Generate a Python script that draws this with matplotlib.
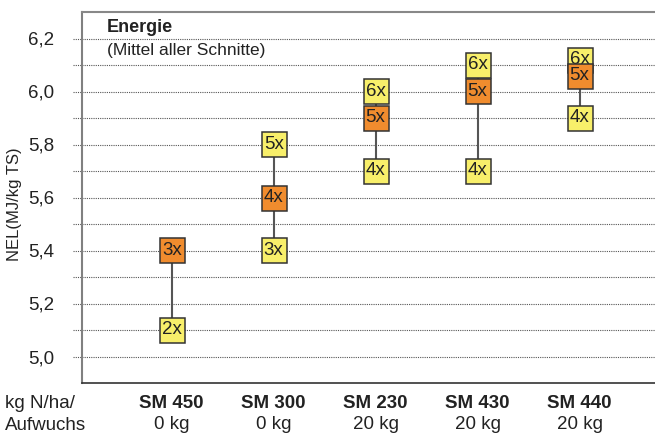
import matplotlib
matplotlib.use("Agg")
import matplotlib.pyplot as plt
import matplotlib.transforms as mtransforms
import numpy as np

plt.rcParams['font.family'] = ['Liberation Sans', 'DejaVu Sans']

# Daten
sorten = ['SM 450', 'SM 300', 'SM 230', 'SM 430', 'SM 440']
duengung = ['0 kg', '0 kg', '20 kg', '20 kg', '20 kg']
schnitte = [[2, 3], [3, 4, 5], [4, 5, 6], [4, 5, 6], [4, 6, 5]]
nel = [[5.1, 5.4], [5.4, 5.6, 5.8], [5.7, 5.9, 6.0], [5.7, 6.0, 6.1], [5.9, 6.12, 6.06]]
optimum = [3, 4, 5, 5, 5]

gelb = '#F8EF6A'
orange = '#F08C2E'

fig = plt.figure(figsize=(6.55, 4.34), dpi=100)
ax = fig.add_axes([82/655, 51/434, 1 - 82/655, 371/434])

ax.set_xlim(-0.88, 4.74)
ax.set_ylim(4.9, 6.3)

# punktierte Hilfslinien
for y in np.arange(5.0, 6.25, 0.1):
    ax.axhline(y, xmin=-0.016, xmax=1, color='#555555', lw=0.8,
               linestyle=(0, (1, 1)), clip_on=False, zorder=1)

for i in range(len(sorten)):
    werte = nel[i]
    ax.plot([i, i], [min(werte), max(werte)], color='#555555', lw=1.5, zorder=2)
    for s, v in zip(schnitte[i], werte):
        farbe = orange if s == optimum[i] else gelb
        z = 5 if s == optimum[i] else 3
        ax.plot(i, v, marker='s', markersize=18, markerfacecolor=farbe,
                markeredgecolor='#333333', markeredgewidth=1.1, zorder=z)
        ax.text(i, v, f'{s}x', ha='center', va='center', fontsize=13.5,
                color='#222222', zorder=z + 0.5)

ax.set_yticks([5.0, 5.2, 5.4, 5.6, 5.8, 6.0, 6.2])
ax.set_yticklabels(['5,0', '5,2', '5,4', '5,6', '5,8', '6,0', '6,2'], fontsize=13.5, color='#222222')
ax.tick_params(axis='y', length=0, pad=20)
ax.set_xticks([])

ax.spines['right'].set_visible(False)
ax.spines['left'].set_color('#808080')
ax.spines['left'].set_linewidth(1.5)
ax.spines['top'].set_color('#888888')
ax.spines['top'].set_linewidth(1.5)
ax.spines['bottom'].set_color('#333333')
ax.spines['bottom'].set_linewidth(1.2)

trans = mtransforms.blended_transform_factory(ax.transData, ax.transAxes)
for i in range(len(sorten)):
    ax.text(i, -0.055, sorten[i], transform=trans, ha='center', va='center',
            fontsize=13.5, fontweight='bold', color='#222222')
    ax.text(i, -0.113, duengung[i], transform=trans, ha='center', va='center',
            fontsize=13.5, color='#222222')

fig.text(5/655, 1 - 403/434, 'kg N/ha/', ha='left', va='center', fontsize=13.5, color='#222222')
fig.text(5/655, 1 - 425/434, 'Aufwuchs', ha='left', va='center', fontsize=13.5, color='#222222')

fig.text(15/655, 0.53, 'NEL(MJ/kg TS)', rotation=90, ha='center', va='center',
         fontsize=12, color='#222222')

fig.text(107/655, 1 - 27/434, 'Energie', ha='left', va='center', fontsize=13,
         fontweight='bold', color='#222222')
fig.text(107/655, 1 - 51/434, '(Mittel aller Schnitte)', ha='left', va='center',
         fontsize=12.5, color='#222222')

fig.savefig('out.png', dpi=100)
